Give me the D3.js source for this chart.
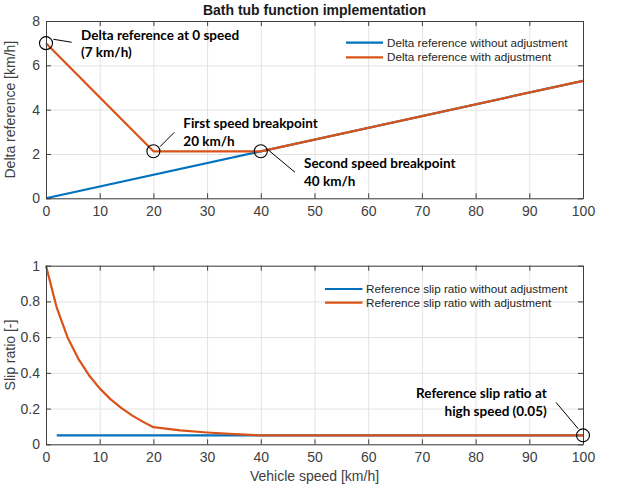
<!DOCTYPE html>
<html>
<head>
<meta charset="utf-8">
<script src="https://cdn.jsdelivr.net/npm/d3@7"></script>
<style>
  html, body { margin: 0; padding: 0; background: #fff; }
  svg { display: block; }
</style>
</head>
<body>
<svg id="chart" width="618" height="493"></svg>
<script>
// Shared speed axis ticks
const speedTicks = [0, 10, 20, 30, 40, 50, 60, 70, 80, 90, 100];

// Upper panel: delta reference [km/h]
const deltaTicks = [0, 2, 4, 6, 8];
const deltaPlainSpeed = [0, 100];
const deltaPlainValues = [0, 5.3];
const deltaAdjSpeed = [0, 20, 40, 100];
const deltaAdjValues = [7, 2.12, 2.12, 5.3];

// Lower panel: slip ratio [-]
const slipTicks = [0, 0.2, 0.4, 0.6, 0.8, 1];
const slipPlainSpeed = [2, 100];
const slipPlainValues = [0.05, 0.05];
const slipAdjSpeed = [0, 2, 4, 6, 8, 10, 12, 14, 16, 18, 20, 25, 30, 35, 40, 100];
const slipAdjValues = [1, 0.765, 0.6, 0.48, 0.387, 0.313, 0.253, 0.204, 0.162, 0.127, 0.096, 0.078, 0.066, 0.057, 0.05, 0.05];

const blue = "#0072BD";
const orange = "#D95319";
const axisColor = "#404040";
const gridColor = "#e3e3e3";
const tickFont = "Liberation Sans, Arial, sans-serif";
const noteFont = "Lato, 'Open Sans', sans-serif";

const svg = d3.select("#chart");

const left = 46, right = 583;
const x = d3.scaleLinear().domain([0, 100]).range([left, right]);

const panels = [
  {
    top: 21, bottom: 198.3, domain: [0, 8], ticks: deltaTicks, fmt: d3.format("d"),
    ylabel: "Delta reference [km/h]",
    series: [
      { xs: deltaPlainSpeed, ys: deltaPlainValues, color: blue, name: "Delta reference without adjustment" },
      { xs: deltaAdjSpeed, ys: deltaAdjValues, color: orange, name: "Delta reference with adjustment" }
    ],
    legend: { x0: 346, x1: 383, tx: 387, y: 42.7, dy: 14.6 }
  },
  {
    top: 265.7, bottom: 444.3, domain: [0, 1], ticks: slipTicks, fmt: d => d === 0 || d === 1 ? String(d) : d3.format(".1f")(d),
    ylabel: "Slip ratio [-]",
    series: [
      { xs: slipPlainSpeed, ys: slipPlainValues, color: blue, name: "Reference slip ratio without adjustment" },
      { xs: slipAdjSpeed, ys: slipAdjValues, color: orange, name: "Reference slip ratio with adjustment" }
    ],
    legend: { x0: 325, x1: 362.5, tx: 366, y: 289, dy: 13.7 }
  }
];

panels.forEach(p => {
  const y = d3.scaleLinear().domain(p.domain).range([p.bottom, p.top]);
  p.y = y;
  const h = p.bottom - p.top, w = right - left;
  const g = svg.append("g");

  // grid
  g.append("g").attr("transform", `translate(0,${p.bottom})`)
    .call(d3.axisBottom(x).tickValues(speedTicks).tickSize(-h).tickFormat(""))
    .call(s => { s.select(".domain").remove(); s.selectAll("line").attr("stroke", gridColor); });
  g.append("g").attr("transform", `translate(${left},0)`)
    .call(d3.axisLeft(y).tickValues(p.ticks).tickSize(-w).tickFormat(""))
    .call(s => { s.select(".domain").remove(); s.selectAll("line").attr("stroke", gridColor); });

  // series
  const line = d3.line().x(d => x(d[0])).y(d => y(d[1]));
  p.series.forEach(sr => {
    const pts = sr.xs.map((v, i) => [v, sr.ys[i]]);
    g.append("path").datum(pts).attr("d", line)
      .attr("fill", "none").attr("stroke", sr.color).attr("stroke-width", 2.2)
      .attr("stroke-linejoin", "round");
  });

  // axes with inward ticks on all four sides
  const styleAxis = s => {
    s.select(".domain").attr("stroke", axisColor).attr("stroke-width", 1);
    s.selectAll(".tick line").attr("stroke", axisColor);
    s.selectAll("text").attr("fill", axisColor).attr("font-family", tickFont).attr("font-size", 14);
  };
  g.append("g").attr("transform", `translate(0,${p.bottom})`)
    .call(d3.axisBottom(x).tickValues(speedTicks).tickSizeInner(-5).tickSizeOuter(0).tickPadding(8))
    .call(styleAxis);
  g.append("g").attr("transform", `translate(0,${p.top})`)
    .call(d3.axisTop(x).tickValues(speedTicks).tickSizeInner(-5).tickSizeOuter(0).tickFormat(""))
    .call(styleAxis);
  g.append("g").attr("transform", `translate(${left},0)`)
    .call(d3.axisLeft(y).tickValues(p.ticks).tickSizeInner(-5).tickSizeOuter(0).tickPadding(6).tickFormat(p.fmt))
    .call(styleAxis);
  g.append("g").attr("transform", `translate(${right},0)`)
    .call(d3.axisRight(y).tickValues(p.ticks).tickSizeInner(-5).tickSizeOuter(0).tickFormat(""))
    .call(styleAxis);

  // y label
  g.append("text")
    .attr("transform", `translate(15,${(p.top + p.bottom) / 2}) rotate(-90)`)
    .attr("text-anchor", "middle")
    .attr("font-family", tickFont).attr("font-size", 14).attr("fill", axisColor)
    .text(p.ylabel);

  // legend
  p.series.forEach((sr, i) => {
    const ly = p.legend.y + i * p.legend.dy;
    g.append("line").attr("x1", p.legend.x0).attr("x2", p.legend.x1)
      .attr("y1", ly).attr("y2", ly).attr("stroke", sr.color).attr("stroke-width", 2.2);
    g.append("text").attr("x", p.legend.tx).attr("y", ly).attr("dy", "0.35em")
      .attr("font-family", tickFont).attr("font-size", 11.7).attr("fill", "#262626")
      .text(sr.name);
  });
});

// title
svg.append("text").attr("x", (left + right) / 2).attr("y", 14.7)
  .attr("text-anchor", "middle").attr("font-family", tickFont)
  .attr("font-size", 14).attr("font-weight", "bold").attr("fill", "#1a1a1a")
  .text("Bath tub function implementation");

// x label
svg.append("text").attr("x", (left + right) / 2).attr("y", 480.5)
  .attr("text-anchor", "middle").attr("font-family", tickFont)
  .attr("font-size", 14).attr("fill", axisColor)
  .text("Vehicle speed [km/h]");

// callouts: circle on a point, leader line, two-line note
const callouts = [
  { panel: 0, sx: 0, sv: 7, l: [7.3, -3.9, 25.7, -0.9], tx: 81, ty: 40, anchor: "start",
    lines: ["Delta reference at 0 speed", "(7 km/h)"] },
  { panel: 0, sx: 20, sv: 2.12, l: [6.6, -4.6, 20.9, -19], tx: 183.3, ty: 128.3, anchor: "start",
    lines: ["First speed breakpoint", "20 km/h"] },
  { panel: 0, sx: 40, sv: 2.12, l: [7.5, -1.3, 34.2, 21], tx: 304, ty: 168.3, anchor: "start",
    lines: ["Second speed breakpoint", "40 km/h"] },
  { panel: 1, sx: 100, sv: 0.05, l: [-4.7, -6.5, -27, -33], tx: 546.7, ty: 398.3, anchor: "end",
    lines: ["Reference slip ratio at", "high speed (0.05)"] }
];

callouts.forEach(c => {
  const p = panels[c.panel];
  const cx = x(c.sx), cy = p.y(c.sv);
  svg.append("circle").attr("cx", cx).attr("cy", cy).attr("r", 6.5)
    .attr("fill", "none").attr("stroke", "#000").attr("stroke-width", 1.1);
  svg.append("line").attr("x1", cx + c.l[0]).attr("y1", cy + c.l[1])
    .attr("x2", cx + c.l[2]).attr("y2", cy + c.l[3])
    .attr("stroke", "#000").attr("stroke-width", 1);
  c.lines.forEach((t, i) => {
    svg.append("text").attr("x", c.tx).attr("y", c.ty + i * 17.4)
      .attr("text-anchor", c.anchor).attr("font-family", noteFont)
      .attr("font-size", 13.5).attr("font-weight", "bold").attr("fill", "#000")
      .text(t);
  });
});
</script>
</body>
</html>
